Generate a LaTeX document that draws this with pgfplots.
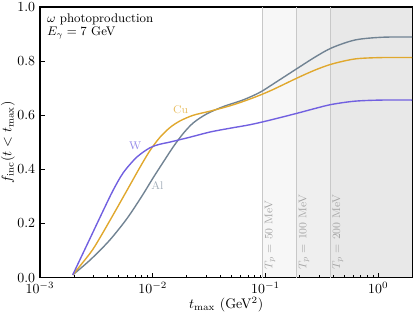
\documentclass[border=0pt]{standalone}
\usepackage{pgfplots}
\pgfplotsset{compat=1.18}
\definecolor{cW}{HTML}{7160E0}
\definecolor{cCu}{HTML}{E0A82E}
\definecolor{cAl}{HTML}{718393}
\definecolor{vline}{HTML}{C8C8C8}
\definecolor{tlab}{HTML}{A6A6A6}
\begin{document}
\begin{tikzpicture}
\begin{axis}[
  scale only axis, width=268pt, height=194.9pt,
  xmode=log, xmin=1e-3, xmax=2.0, ymin=0, ymax=1,
  axis line style={line width=0.9pt},
  tick align=inside, xtick pos=bottom, ytick pos=left,
  major tick length=3.5pt, minor tick length=2pt,
  every tick/.style={black, line width=0.6pt},
  xtick={1e-3,1e-2,1e-1,1},
  ytick={0,0.2,0.4,0.6,0.8,1.0},
  minor ytick={},
  yticklabel style={/pgf/number format/.cd, fixed, fixed zerofill, precision=1},
  xlabel={$t_{\rm max}$ (GeV$^2$)},
  ylabel={$f_{\rm inc}(t < t_{\rm max})$},
  xlabel style={at={(axis description cs:0.5,-0.1)}, anchor=center},
  ylabel style={at={(axis description cs:-0.086,0.5)}, anchor=center},
]
% shaded regions
\addplot[draw=none, fill=black, fill opacity=0.031] coordinates {(0.0938,0) (0.0938,1) (2,1) (2,0)} -- cycle;
\addplot[draw=none, fill=black, fill opacity=0.031] coordinates {(0.1876,0) (0.1876,1) (2,1) (2,0)} -- cycle;
\addplot[draw=none, fill=black, fill opacity=0.031] coordinates {(0.3752,0) (0.3752,1) (2,1) (2,0)} -- cycle;
\addplot[vline, line width=0.8pt] coordinates {(0.0938,0) (0.0938,1)};
\addplot[vline, line width=0.8pt] coordinates {(0.1876,0) (0.1876,1)};
\addplot[vline, line width=0.8pt] coordinates {(0.3752,0) (0.3752,1)};
\node[rotate=90, anchor=north west, inner sep=1.5pt, text=tlab, font=\footnotesize] at (axis cs:0.0938,0.02) {$T_p$ = 50 MeV};
\node[rotate=90, anchor=north west, inner sep=1.5pt, text=tlab, font=\footnotesize] at (axis cs:0.1876,0.02) {$T_p$ = 100 MeV};
\node[rotate=90, anchor=north west, inner sep=1.5pt, text=tlab, font=\footnotesize] at (axis cs:0.3752,0.02) {$T_p$ = 200 MeV};
% Al
\addplot[cAl, line width=1pt, smooth] coordinates {
(0.00195,0.010) (0.002780,0.065) (0.004121,0.137) (0.005875,0.217) (0.007980,0.300)
(0.01012,0.370) (0.01285,0.437) (0.01524,0.484) (0.01866,0.533) (0.02291,0.572)
(0.03013,0.605) (0.04227,0.632) (0.06368,0.657) (0.08954,0.685) (0.1216,0.720)
(0.1897,0.772) (0.2754,0.815) (0.3873,0.849) (0.6237,0.878) (1.076,0.888) (2.0,0.889)};
% Cu
\addplot[cCu, line width=1pt, smooth] coordinates {
(0.00195,0.010) (0.002780,0.090) (0.003289,0.137) (0.004467,0.233) (0.006067,0.331)
(0.007709,0.408) (0.009462,0.470) (0.01161,0.519) (0.01426,0.555) (0.01746,0.579)
(0.02291,0.600) (0.03221,0.615) (0.04853,0.635) (0.07295,0.660) (0.1099,0.690)
(0.1897,0.737) (0.2754,0.767) (0.3873,0.789) (0.6237,0.808) (1.076,0.813) (2.0,0.813)};
% W
\addplot[cW, line width=1pt, smooth] coordinates {
(0.00195,0.010) (0.002735,0.139) (0.003648,0.249) (0.004467,0.324) (0.005483,0.388)
(0.007211,0.445) (0.009462,0.480) (0.01161,0.493) (0.01426,0.501) (0.02143,0.519)
(0.03221,0.538) (0.04853,0.552) (0.07295,0.565) (0.1099,0.582) (0.1897,0.607)
(0.2754,0.625) (0.3873,0.640) (0.6237,0.652) (1.076,0.656) (2.0,0.656)};
\node[text=cCu!75, font=\footnotesize] at (axis cs:0.0177,0.622) {Cu};
\node[text=cW!75, font=\footnotesize] at (axis cs:0.00697,0.4865) {W};
\node[text=cAl!65, font=\footnotesize] at (axis cs:0.01099,0.342) {Al};
\node[anchor=north west, align=left, font=\fontsize{9}{9.8}\selectfont, inner sep=0pt] at ([shift={(5pt,-4.5pt)}]rel axis cs:0,1) {$\omega$ photoproduction\\$E_\gamma = 7$ GeV};
\end{axis}
\pgfresetboundingbox
\useasboundingbox ([shift={(-28.8pt,-26.9pt)}]current axis.south west) rectangle ([shift={(2.7pt,5pt)}]current axis.north east);
\end{tikzpicture}
\end{document}
